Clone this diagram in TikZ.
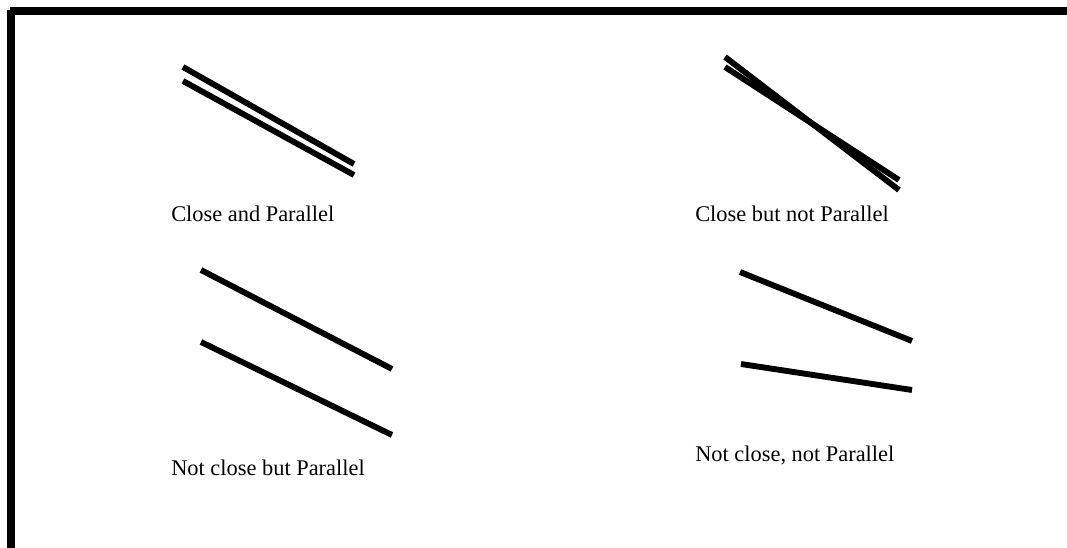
\documentclass[tikz,border=0pt]{standalone}
\usepackage{fontspec}
\setmainfont{Liberation Serif}
\begin{document}
\begin{tikzpicture}[x=0.75pt,y=-0.75pt,
  seg/.style={line width=4.4pt, black},
  lbl/.style={anchor=base west, inner sep=0pt, font=\fontsize{16.8pt}{20pt}\selectfont}]
\useasboundingbox (0,0) rectangle (1067,548);
\fill[white] (0,0) rectangle (1067,548);
% frame
\fill[black] (10,7) rectangle (1067,15);
\fill[black] (7,10) rectangle (15,548);
% Close and Parallel
\coordinate (a1) at (183,67);  \coordinate (a2) at (354,164);
\coordinate (b1) at (183,81);  \coordinate (b2) at (354,175);
\draw[seg] (a1) -- (a2);
\draw[seg] (b1) -- (b2);
\node[lbl] (t1) at (171,222) {Close and Parallel};
% Close but not Parallel
\coordinate (c1) at (725,57);  \coordinate (c2) at (899,190);
\coordinate (d1) at (725,67);  \coordinate (d2) at (899,180);
\draw[seg] (c1) -- (c2);
\draw[seg] (d1) -- (d2);
\node[lbl] (t2) at (695,222) {Close but not Parallel};
% Not close but Parallel
\coordinate (e1) at (201,270); \coordinate (e2) at (392,369);
\coordinate (f1) at (201,342); \coordinate (f2) at (392,435);
\draw[seg] (e1) -- (e2);
\draw[seg] (f1) -- (f2);
\node[lbl] (t3) at (171,476) {Not close but Parallel};
% Not close, not Parallel
\coordinate (g1) at (740,272); \coordinate (g2) at (912,341);
\coordinate (h1) at (741,364); \coordinate (h2) at (912,390);
\draw[seg] (g1) -- (g2);
\draw[seg] (h1) -- (h2);
\node[lbl] (t4) at (695,462) {Not close, not Parallel};
\end{tikzpicture}
\end{document}
